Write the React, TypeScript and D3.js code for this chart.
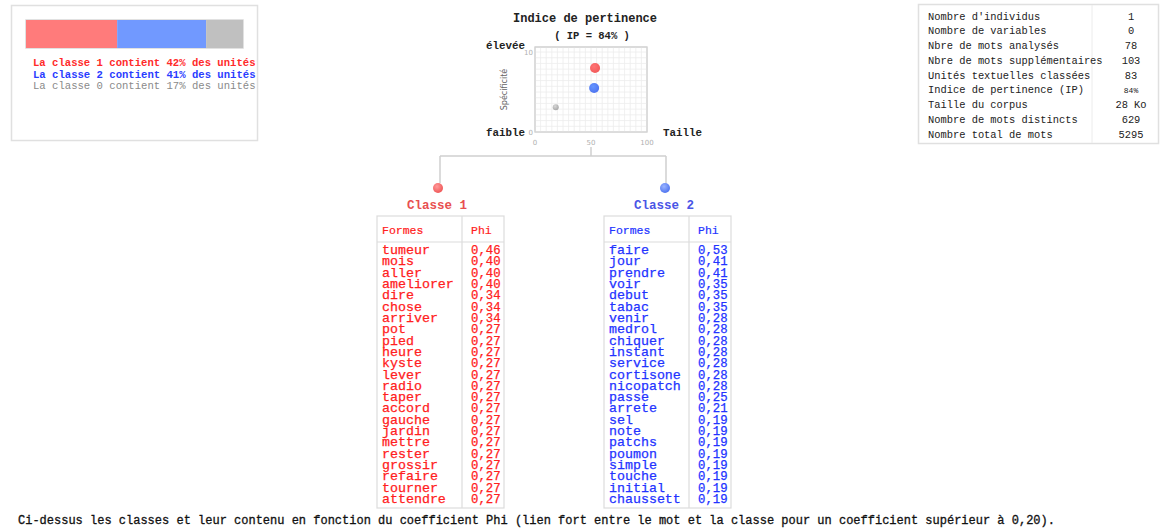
import React from "react";
import * as d3 from "d3";

// ---- data ----
const classShares = [
  { id: "1", pct: 42, color: "#ff7b7b", text: "#ff2a2a" },
  { id: "2", pct: 41, color: "#7199ff", text: "#2a3cff" },
  { id: "0", pct: 17, color: "#c0c0c0", text: "#8a8a8a" },
];

const scatterPoints = [
  { id: "1", taille: 53.6, spec: 8.0, r: 5, color: "#f25a5a" },
  { id: "2", taille: 52.8, spec: 5.5, r: 5, color: "#4f74f0" },
  { id: "0", taille: 18.5, spec: 3.1, r: 3, color: "#a8a8a8" },
];
const xTicks = [0, 50, 100];
const yTicks = [0, 10];

const statLabels = [
  "Nombre d'individus",
  "Nombre de variables",
  "Nbre de mots analysés",
  "Nbre de mots supplémentaires",
  "Unités textuelles classées",
  "Indice de pertinence (IP)",
  "Taille du corpus",
  "Nombre de mots distincts",
  "Nombre total de mots",
];
const statValues = ["1", "0", "78", "103", "83", "84%", "28 Ko", "629", "5295"];

const class1Forms = ["tumeur","mois","aller","ameliorer","dire","chose","arriver","pot","pied","heure","kyste","lever","radio","taper","accord","gauche","jardin","mettre","rester","grossir","refaire","tourner","attendre"];
const class1Phi = ["0,46","0,40","0,40","0,40","0,34","0,34","0,34","0,27","0,27","0,27","0,27","0,27","0,27","0,27","0,27","0,27","0,27","0,27","0,27","0,27","0,27","0,27","0,27"];
const class2Forms = ["faire","jour","prendre","voir","debut","tabac","venir","medrol","chiquer","instant","service","cortisone","nicopatch","passe","arrete","sel","note","patchs","poumon","simple","touche","initial","chaussett"];
const class2Phi = ["0,53","0,41","0,41","0,35","0,35","0,35","0,28","0,28","0,28","0,28","0,28","0,28","0,28","0,25","0,21","0,19","0,19","0,19","0,19","0,19","0,19","0,19","0,19"];

const MONO = "'Liberation Mono', 'Courier New', monospace";

function ClassTable({ x0, title, titleColor, textColor, forms, phi, gradId }) {
  const left = x0;
  const divider = x0 + 85;
  const right = x0 + 127;
  const top = 216;
  const bottom = 508;
  const rowY = d3.scalePoint().domain(forms.map((_, i) => String(i))).range([254, 503]);
  return (
    <g>
      <circle cx={left + 61} cy={188} r={5} fill={`url(#${gradId})`} />
      <text x={left + 60} y={209} textAnchor="middle" fontFamily={MONO} fontWeight="bold" fontSize={12.5} fill={titleColor}>{title}</text>
      <rect x={left} y={top} width={right - left} height={bottom - top} fill="#fff" stroke="#dcdcdc" strokeWidth={1.2} />
      <line x1={divider} x2={divider} y1={top} y2={bottom} stroke="#dcdcdc" strokeWidth={1.2} />
      <line x1={left} x2={right} y1={242} y2={242} stroke="#dcdcdc" strokeWidth={1.2} />
      <text x={left + 5} y={234} fontFamily={MONO} fontSize={11.5} fill={textColor} stroke={textColor} strokeWidth={0.2}>Formes</text>
      <text x={divider + 9} y={234} fontFamily={MONO} fontSize={11.5} fill={textColor} stroke={textColor} strokeWidth={0.2}>Phi</text>
      {forms.map((f, i) => (
        <g key={f}>
          <text x={left + 5} y={rowY(String(i))} fontFamily={MONO} fontSize={13.3} fill={textColor} stroke={textColor} strokeWidth={0.25}>{f}</text>
          <text x={divider + 9} y={rowY(String(i))} fontFamily={MONO} fontSize={12.3} fill={textColor} stroke={textColor} strokeWidth={0.25}>{phi[i]}</text>
        </g>
      ))}
    </g>
  );
}

export default function App() {
  // stacked bar
  const barX = d3.scaleLinear().domain([0, 100]).range([26, 243]);
  const stacked = classShares.reduce((acc, c) => {
    const start = acc.length ? acc[acc.length - 1].end : 0;
    acc.push({ ...c, start, end: start + c.pct });
    return acc;
  }, []);
  const legendY = d3.scalePoint().domain(classShares.map((c) => c.id)).range([66, 89]);

  // scatter
  const sx = d3.scaleLinear().domain([0, 100]).range([535, 647]);
  const sy = d3.scaleLinear().domain([0, 10]).range([132, 52]);
  const gridX = d3.range(0, 100.01, 5);
  const gridY = d3.range(0, 10.6, 10 / 14);

  // stats
  const statY = d3.scalePoint().domain(statLabels).range([19.5, 137.5]);

  return (
    <svg width={1170} height={529} style={{ position: "absolute", left: 0, top: 0, background: "#fff" }}>
      <defs>
        {scatterPoints.map((p) => (
          <radialGradient key={p.id} id={`g${p.id}`} cx="40%" cy="35%" r="65%">
            <stop offset="0%" stopColor={d3.color(p.color).brighter(0.7).toString()} />
            <stop offset="100%" stopColor={p.color} />
          </radialGradient>
        ))}
        <radialGradient id="c1" cx="40%" cy="35%" r="65%">
          <stop offset="0%" stopColor="#ff9a9a" />
          <stop offset="100%" stopColor="#f05858" />
        </radialGradient>
        <radialGradient id="c2" cx="40%" cy="35%" r="65%">
          <stop offset="0%" stopColor="#9ab4ff" />
          <stop offset="100%" stopColor="#4f74f0" />
        </radialGradient>
      </defs>

      {/* legend box */}
      <rect x={11.5} y={5.5} width={246} height={135} fill="#fff" stroke="#e0e0e0" strokeWidth={1.5} />
      <rect x={26} y={20} width={217} height={28} fill="none" stroke="#d8d8d8" strokeWidth={1.5} />
      {stacked.map((c) => (
        <rect key={c.id} x={barX(c.start)} y={20} width={barX(c.end) - barX(c.start)} height={28} fill={c.color} />
      ))}
      {classShares.map((c) => (
        <text key={c.id} x={33} y={legendY(c.id)} fontFamily={MONO} fontSize={10.6} fontWeight={c.id === "0" ? "normal" : "bold"} fill={c.text}>
          {`La classe ${c.id} contient ${c.pct}% des unités`}
        </text>
      ))}

      {/* scatter */}
      <text x={585} y={22} textAnchor="middle" fontFamily={MONO} fontWeight="bold" fontSize={12} fill="#222">Indice de pertinence</text>
      <text x={592} y={39} textAnchor="middle" fontFamily={MONO} fontWeight="bold" fontSize={10.5} fill="#222">( IP = 84% )</text>
      <rect x={sx(0)} y={47} width={sx(100) - sx(0)} height={sy(0) - 47} fill="#fff" stroke="#d0d0d0" strokeWidth={1} />
      {gridX.map((v) => (
        <line key={"gx" + v} x1={sx(v)} x2={sx(v)} y1={47} y2={sy(0)} stroke="#ececec" strokeWidth={0.8} />
      ))}
      {gridY.map((v, i) => (
        <line key={"gy" + i} x1={sx(0)} x2={sx(100)} y1={sy(v)} y2={sy(v)} stroke="#ececec" strokeWidth={0.8} />
      ))}
      <rect x={sx(0)} y={47} width={sx(100) - sx(0)} height={sy(0) - 47} fill="none" stroke="#d0d0d0" strokeWidth={1} />
      {xTicks.map((t) => (
        <text key={"xt" + t} x={sx(t)} y={145} textAnchor="middle" fontFamily="'DejaVu Sans', sans-serif" fontSize={7} fill="#b0b0b0">{t}</text>
      ))}
      {yTicks.map((t) => (
        <text key={"yt" + t} x={sx(0) - 2} y={sy(t) + 3} textAnchor="end" fontFamily="'DejaVu Sans', sans-serif" fontSize={7} fill="#b0b0b0">{t}</text>
      ))}
      <text transform={`translate(507,${(sy(0) + 47) / 2}) rotate(-90)`} textAnchor="middle" fontFamily="'DejaVu Sans', sans-serif" fontSize={8} fill="#666">Spécificité</text>
      <text x={486} y={49} fontFamily={MONO} fontWeight="bold" fontSize={10.8} fill="#222">élevée</text>
      <text x={486} y={136} fontFamily={MONO} fontWeight="bold" fontSize={10.8} fill="#222">faible</text>
      <text x={663} y={136} fontFamily={MONO} fontWeight="bold" fontSize={10.8} fill="#222">Taille</text>
      {scatterPoints.map((p) => (
        <circle key={p.id} cx={sx(p.taille)} cy={sy(p.spec)} r={p.r} fill={`url(#g${p.id})`} />
      ))}

      {/* tree */}
      <path d="M591,147 V156 M440,156 H666 M440,156 V183 M666,156 V183" fill="none" stroke="#d0d0d0" strokeWidth={1.5} />
      <ClassTable x0={377} title="Classe 1" titleColor="#e85050" textColor="#ff2020" forms={class1Forms} phi={class1Phi} gradId="c1" />
      <ClassTable x0={604} title="Classe 2" titleColor="#4a55e6" textColor="#2233ff" forms={class2Forms} phi={class2Phi} gradId="c2" />

      {/* stats table */}
      <rect x={918.5} y={4.5} width={240} height={139} fill="#fff" stroke="#e0e0e0" strokeWidth={1.5} />
      <line x1={1092} x2={1092} y1={5} y2={143} stroke="#ececec" strokeWidth={1} />
      {statLabels.map((l, i) => (
        <g key={l}>
          <text x={928} y={statY(l)} fontFamily={MONO} fontSize={10.4} fill="#222">{l}</text>
          <text x={1131} y={statY(l)} textAnchor="middle" fontFamily={MONO} fontSize={i === 5 ? 8 : 10.4} fill="#222">{statValues[i]}</text>
        </g>
      ))}

      {/* footer */}
      <text x={18} y={524} fontFamily={MONO} fontSize={12} fill="#111" stroke="#111" strokeWidth={0.3}>
        Ci-dessus les classes et leur contenu en fonction du coefficient Phi (lien fort entre le mot et la classe pour un coefficient supérieur à 0,20).
      </text>
    </svg>
  );
}
